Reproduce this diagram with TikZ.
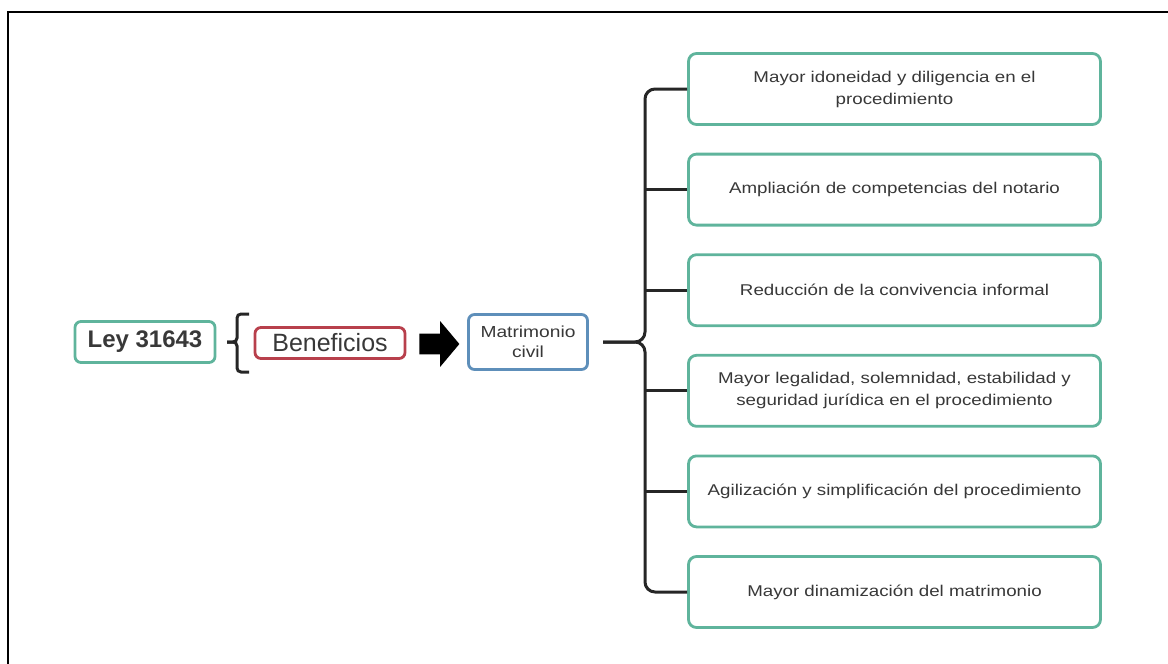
\documentclass[tikz,border=0pt]{standalone}
\usepackage{fontspec}
\setmainfont{Liberation Sans}
\newfontfamily\boxfont[FakeStretch=1.2]{Liberation Sans}
\usepackage{tikz}
\usetikzlibrary{shapes.arrows,positioning}
\usepackage{xcolor}
\definecolor{leygreen}{HTML}{5FB49C}
\definecolor{benred}{HTML}{B8404C}
\definecolor{matblue}{HTML}{5E8FBA}
\definecolor{txtgray}{HTML}{383838}
\tikzstyle{block} = [rectangle, draw=leygreen, line width=1.4pt, fill=white, rounded corners=4pt, text=txtgray, align=center, font=\boxfont\fontsize{7.8}{11}\selectfont, minimum width=206pt, minimum height=35.5pt]
\tikzstyle{root} = [rectangle, draw=leygreen, line width=1.4pt, rounded corners=3pt, text=txtgray, align=center, font=\bfseries\fontsize{12}{14}\selectfont, minimum width=70pt, minimum height=20.5pt, inner sep=2pt]
\tikzstyle{brace} = [draw, line width=1.5pt, color=black!85, rounded corners=5pt]

\begin{document}
\begin{tikzpicture}[x=0.5pt, y=-0.5pt]
	\useasboundingbox (0,0) rectangle (1168,664);
	%% frame
	\coordinate (fTL) at (8,12);
	\coordinate (fBR) at (1176,672);
	\draw[line width=1pt] (fTL) rectangle (fBR);
	%% Ley
	\node[root] (Ley) at (145,342) {Ley 31643};
	%% Beneficios
	\node[root, draw=benred, font=\fontsize{12.5}{14}\selectfont, minimum width=75pt, minimum height=15.5pt] (Ben) at (330,343) {Beneficios};
	%% block arrow
	\node[single arrow, fill=black, inner sep=5pt, minimum height=20pt, single arrow head extend=6.25pt, single arrow tip angle=100] (Arr) at (435,344) {};
	%% Matrimonio civil
	\node[root, draw=matblue, font=\boxfont\fontsize{8}{10}\selectfont, minimum width=59.5pt, minimum height=27.5pt] (Mat) at (528,342) {Matrimonio\\civil};
	%% boxes
	\node[block] (B1) at (894.5,89) {Mayor idoneidad y diligencia en el\\procedimiento};
	\node[block, below of=B1, node distance=50.3pt] (B2) {Ampliación de competencias del notario};
	\node[block, below of=B2, node distance=50.3pt] (B3) {Reducción de la convivencia informal};
	\node[block, below of=B3, node distance=50.3pt] (B4) {Mayor legalidad, solemnidad, estabilidad y\\seguridad jurídica en el procedimiento};
	\node[block, below of=B4, node distance=50.3pt] (B5) {Agilización y simplificación del procedimiento};
	\node[block, below of=B5, node distance=50.3pt] (B6) {Mayor dinamización del matrimonio};
	%% small brace
	\coordinate (sb) at (237,342);
	\coordinate (sbtip) at (227,342);
	\coordinate (sbt) at (249,314);
	\coordinate (sbb) at (249,372);
	\path[brace, rounded corners=2pt] (sbt) -| (sb) -- (sbtip);
	\path[brace, rounded corners=2pt] (sbb) -| (sb) -- (sbtip);
	%% big brace
	\coordinate (bx) at (645,342);
	\coordinate (btip) at (603,342);
	\path[brace] (B1.west) -| (bx) -- (btip);
	\path[brace] (B6.west) -| (bx) -- (btip);
	%% edges
	\foreach \i in {2,...,5}
		\path[brace] (B\i.west) -- (B\i.west -| bx);
\end{tikzpicture}
\end{document}
